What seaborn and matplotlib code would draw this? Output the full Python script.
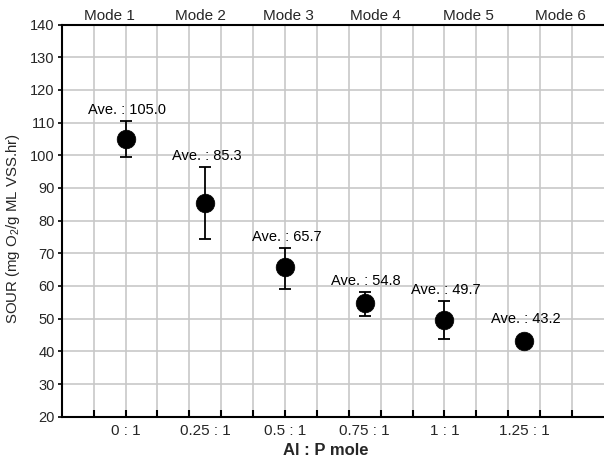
import numpy as np
import pandas as pd
import matplotlib
matplotlib.use("Agg")
import matplotlib.pyplot as plt
import matplotlib.transforms as mtransforms
import seaborn as sns

# ---- data ----
ratios = ["0 : 1", "0.25 : 1", "0.5 : 1", "0.75 : 1", "1 : 1", "1.25 : 1"]
ratio_pos = [2, 4.5, 7, 9.5, 12, 14.5]
sour_mean = [105.0, 85.3, 65.7, 54.8, 49.7, 43.2]
err_low = [5.5, 11.0, 6.7, 3.9, 6.0, 0.0]
err_high = [5.5, 11.2, 5.9, 3.4, 5.7, 0.0]
modes = ["Mode 1", "Mode 2", "Mode 3", "Mode 4", "Mode 5", "Mode 6"]
mode_pos = [1.5, 4.35, 7.1, 9.85, 12.75, 15.65]
y_ticks = list(range(20, 141, 10))

df = pd.DataFrame({"x": ratio_pos, "sour": sour_mean})

sns.set_theme(style="white")
plt.rcParams["font.family"] = ["Liberation Sans", "DejaVu Sans"]
plt.rcParams["mathtext.fontset"] = "custom"
plt.rcParams["mathtext.rm"] = "Liberation Sans"
plt.rcParams["mathtext.it"] = "Liberation Sans:italic"

fig = plt.figure(figsize=(6.04, 4.62), dpi=100)
ax = fig.add_axes([61.7 / 604, 45.3 / 462, 1 - 61.7 / 604, (416.7 - 24.5) / 462])
ax.xaxis.remove_overlapping_locs = False

ax.errorbar(ratio_pos, sour_mean, yerr=[err_low, err_high], fmt="none",
            ecolor="black", elinewidth=1.3, capsize=4, capthick=1.3, zorder=3)
sns.scatterplot(data=df, x="x", y="sour", ax=ax, color="black", s=180,
                edgecolor="black", linewidth=0.5, zorder=4, legend=False)

for x, y, eh in zip(ratio_pos, sour_mean, err_high):
    top = y + eh
    off = 3 if eh > 0.5 else 11
    ax.annotate(f"Ave. : {y:.1f}", (x, top), xytext=(1, off), textcoords="offset points",
                ha="center", va="bottom", fontsize=10.5, color="black")

ax.set_xlim(0, 17)
ax.set_ylim(20, 140)
ax.set_yticks(y_ticks)
ax.set_yticklabels([str(v) for v in y_ticks], fontsize=10.5)
ax.set_xticks(ratio_pos)
ax.set_xticklabels(ratios, fontsize=11)
ax.set_xticks(np.arange(1, 17), minor=True)
ax.tick_params(axis="x", which="major", length=0, pad=5)
ax.tick_params(axis="x", which="minor", direction="in", length=5, width=1.5,
               color="black", top=False, bottom=True)
ax.tick_params(axis="y", which="major", direction="out", length=3, width=1.2,
               color="black", left=True, pad=2)

ax.grid(False)
ax.grid(which="minor", axis="x", color="#c8c8c8", linewidth=1.2)
ax.grid(which="major", axis="y", color="#c8c8c8", linewidth=1.2)
ax.set_axisbelow(True)

for s in ["left", "bottom", "top"]:
    ax.spines[s].set_color("black")
    ax.spines[s].set_linewidth(1.5)
ax.spines["right"].set_visible(False)

trans = mtransforms.blended_transform_factory(ax.transData, ax.transAxes)
for m, p in zip(modes, mode_pos):
    ax.text(p, 1.005, m, transform=trans, ha="center", va="bottom", fontsize=11)

ax.set_xlabel("Al : P mole", fontsize=12, fontweight="bold")
ax.xaxis.set_label_coords((326 - 61.7) / (604 - 61.7), (416.7 - 443) / 392.2)
ax.set_ylabel(r"SOUR (mg O$_2$/g ML VSS.hr)", fontsize=10.8)
ax.yaxis.set_label_coords((22 - 61.7) / (604 - 61.7), (416.7 - 229) / 392.2)

fig.savefig("out.png", dpi=100)
